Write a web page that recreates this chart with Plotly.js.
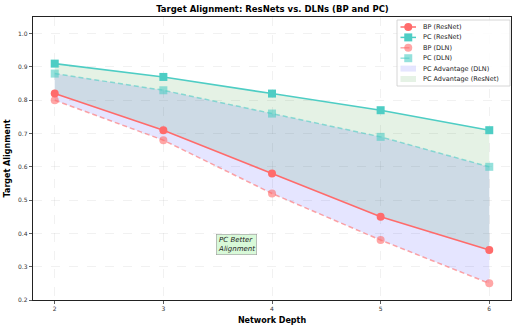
<!DOCTYPE html>
<html>
<head>
<meta charset="utf-8">
<script src="https://cdn.plot.ly/plotly-3.0.1.min.js"></script>
<style>
  html, body { margin: 0; padding: 0; background: #fff; }
  #chart { width: 519px; height: 329px; }
</style>
</head>
<body>
<div id="chart"></div>
<script>
// Network depths on the x axis
const depths = [2, 3, 4, 5, 6];

// Target alignment per depth
const bpResNet = [0.82, 0.71, 0.58, 0.45, 0.35];
const pcResNet = [0.91, 0.87, 0.82, 0.77, 0.71];
const bpDLN = [0.80, 0.68, 0.52, 0.38, 0.25];
const pcDLN = [0.88, 0.83, 0.76, 0.69, 0.60];

const yTicks = [0.2, 0.3, 0.4, 0.5, 0.6, 0.7, 0.8, 0.9, 1.0];

const RED = '#FF6B6B';
const TEAL = '#4ECDC4';
const RED_LIGHT = 'rgba(255,107,107,0.6)';
const TEAL_LIGHT = 'rgba(78,205,196,0.6)';
const FILL_DLN = 'rgba(0,0,255,0.1)';
const FILL_RES = 'rgba(0,128,0,0.1)';

const font = 'DejaVu Sans, sans-serif';

// plot area geometry (pixels)
const W = 519, H = 329;
const M = { l: 33, r: 8, t: 17, b: 29 };
const plotW = W - M.l - M.r, plotH = H - M.t - M.b;
const px = x => (x - M.l) / plotW;
const py = y => (H - M.b - y) / plotH;

const traces = [
  // shaded gap between BP and PC for DLN
  { x: depths, y: bpDLN, mode: 'lines', line: { width: 0 }, hoverinfo: 'skip', showlegend: false },
  { x: depths, y: pcDLN, mode: 'lines', line: { width: 0 }, fill: 'tonexty',
    fillcolor: FILL_DLN, name: 'PC Advantage (DLN)', showlegend: false },
  // shaded gap between BP and PC for ResNet
  { x: depths, y: bpResNet, mode: 'lines', line: { width: 0 }, hoverinfo: 'skip', showlegend: false },
  { x: depths, y: pcResNet, mode: 'lines', line: { width: 0 }, fill: 'tonexty',
    fillcolor: FILL_RES, name: 'PC Advantage (ResNet)', showlegend: false },
  // DLN curves (dashed, lighter)
  { x: depths, y: bpDLN, mode: 'lines+markers', name: 'BP (DLN)', showlegend: false,
    line: { color: RED_LIGHT, width: 1.5, dash: '5px,3px' },
    marker: { color: RED_LIGHT, size: 8, symbol: 'circle' } },
  { x: depths, y: pcDLN, mode: 'lines+markers', name: 'PC (DLN)', showlegend: false,
    line: { color: TEAL_LIGHT, width: 1.5, dash: '5px,3px' },
    marker: { color: TEAL_LIGHT, size: 8, symbol: 'square' } },
  // ResNet curves (solid)
  { x: depths, y: bpResNet, mode: 'lines+markers', name: 'BP (ResNet)', showlegend: false,
    line: { color: RED, width: 1.6 },
    marker: { color: RED, size: 8, symbol: 'circle' } },
  { x: depths, y: pcResNet, mode: 'lines+markers', name: 'PC (ResNet)', showlegend: false,
    line: { color: TEAL, width: 1.6 },
    marker: { color: TEAL, size: 8, symbol: 'square' } }
];

// Compact legend box drawn with shapes + annotations
const legendItems = [
  { label: 'BP (ResNet)', kind: 'line', color: RED, dash: 'solid', marker: 'circle' },
  { label: 'PC (ResNet)', kind: 'line', color: TEAL, dash: 'solid', marker: 'square' },
  { label: 'BP (DLN)', kind: 'line', color: RED_LIGHT, dash: 'dash', marker: 'circle' },
  { label: 'PC (DLN)', kind: 'line', color: TEAL_LIGHT, dash: 'dash', marker: 'square' },
  { label: 'PC Advantage (DLN)', kind: 'fill', color: FILL_DLN },
  { label: 'PC Advantage (ResNet)', kind: 'fill', color: FILL_RES }
];

const legBox = { x0: 397, x1: 510, y0: 20, y1: 86 };
const rowTop = 27, rowStep = 10.4;
const sampleX0 = 400.5, sampleX1 = 416, textX = 420.5;

const shapes = [{
  type: 'rect', xref: 'paper', yref: 'paper', layer: 'above',
  x0: px(legBox.x0), x1: px(legBox.x1), y0: py(legBox.y1), y1: py(legBox.y0),
  fillcolor: 'rgba(255,255,255,0.85)', line: { color: '#cccccc', width: 0.8 }
}];
const annotations = [];

legendItems.forEach((it, i) => {
  const cy = rowTop + i * rowStep;
  if (it.kind === 'line') {
    shapes.push({
      type: 'line', xref: 'paper', yref: 'paper', layer: 'above',
      x0: px(sampleX0), x1: px(sampleX1), y0: py(cy), y1: py(cy),
      line: { color: it.color, width: 1.5, dash: it.dash === 'dash' ? 'dash' : 'solid' }
    });
    const cx = (sampleX0 + sampleX1) / 2;
    shapes.push({
      type: it.marker === 'circle' ? 'circle' : 'rect', layer: 'above',
      xref: 'paper', yref: 'paper', xsizemode: 'pixel', ysizemode: 'pixel',
      xanchor: px(cx), yanchor: py(cy),
      x0: -4, x1: 4, y0: -4, y1: 4,
      fillcolor: it.color, line: { width: 0 }
    });
  } else {
    shapes.push({
      type: 'rect', xref: 'paper', yref: 'paper', layer: 'above',
      x0: px(sampleX0), x1: px(sampleX1), y0: py(cy + 3), y1: py(cy - 3),
      fillcolor: it.color, line: { width: 0 }
    });
  }
  annotations.push({
    xref: 'paper', yref: 'paper', x: px(textX), y: py(cy),
    xanchor: 'left', yanchor: 'middle', showarrow: false,
    text: it.label, font: { family: font, size: 6.5, color: '#222' }
  });
});

// text box inside the chart
annotations.push({
  x: 3.67, y: 0.367, xref: 'x', yref: 'y',
  text: '<i>PC Better<br>Alignment</i>',
  showarrow: false, align: 'left',
  font: { family: font, size: 7, color: '#222' },
  bgcolor: 'rgba(144,238,144,0.35)',
  bordercolor: '#999', borderwidth: 0.6, borderpad: 1.5
});

const layout = {
  width: W,
  height: H,
  margin: M,
  showlegend: false,
  paper_bgcolor: '#fff',
  plot_bgcolor: '#fff',
  font: { family: font, color: '#222', size: 6 },
  title: {
    text: '<b>Target Alignment: ResNets vs. DLNs (BP and PC)</b>',
    font: { family: font, size: 8.5, color: '#000' },
    x: 0.525, xanchor: 'center', y: 0.973, yanchor: 'middle'
  },
  xaxis: {
    range: [1.8, 6.2],
    tickvals: depths,
    ticktext: depths.map(String),
    ticks: 'outside', ticklen: 3, tickwidth: 0.8, tickcolor: '#333',
    showline: true, mirror: true, linecolor: '#222', linewidth: 1.2,
    showgrid: true, gridcolor: 'rgba(180,180,180,0.3)', griddash: 'dash', gridwidth: 0.6,
    zeroline: false,
    tickfont: { family: font, size: 6, color: '#333' },
    title: { text: '<b>Network Depth</b>', font: { family: font, size: 8, color: '#000' }, standoff: 6 }
  },
  yaxis: {
    range: [0.2, 1.05],
    tickvals: yTicks,
    ticktext: yTicks.map(v => v.toFixed(1)),
    ticks: 'outside', ticklen: 3, tickwidth: 0.8, tickcolor: '#333',
    showline: true, mirror: true, linecolor: '#222', linewidth: 1.2,
    showgrid: true, gridcolor: 'rgba(180,180,180,0.3)', griddash: 'dash', gridwidth: 0.6,
    zeroline: false,
    tickfont: { family: font, size: 6, color: '#333' },
    title: { text: '<b>Target Alignment</b>', font: { family: font, size: 8, color: '#000' }, standoff: 6 }
  },
  shapes: shapes,
  annotations: annotations
};

Plotly.newPlot('chart', traces, layout, { displayModeBar: false, staticPlot: true });
</script>
</body>
</html>
